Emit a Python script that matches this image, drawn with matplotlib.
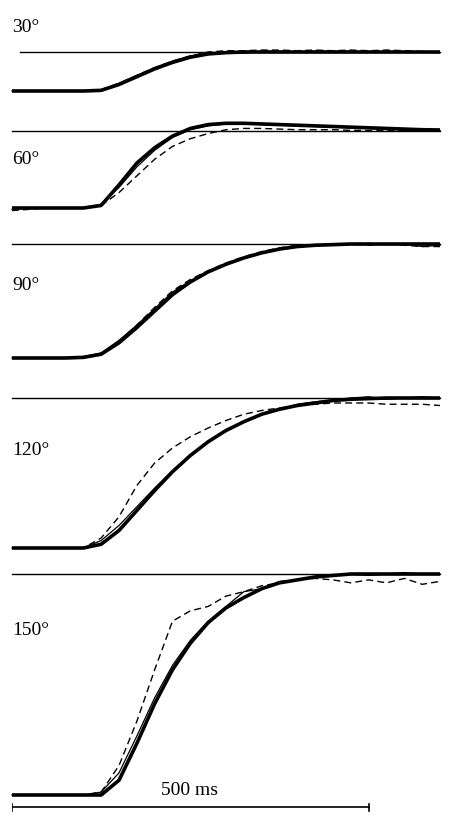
import matplotlib
matplotlib.use("Agg")
import matplotlib.pyplot as plt
import numpy as np

t = np.arange(0, 625, 25)  # ms
angles = [30, 60, 90, 120, 150]
labels = ["30°", "60°", "90°", "120°", "150°"]

model = [
 [0,0,0,0,0,0.5,5,11,17,22,26,28.5,29.5,30,30,30,30,30,30,30,30,30,30,30,30],
 [0,0,0,0,0,2,18,35,47,56,62,65,66,66,65.5,65,64.5,64,63.5,63,62.5,62,61.5,61,60.8],
 [0,0,0,0,0.5,3,12,24,37,50,60,68,74,79,83,86,88,89,89.5,90,90,90,90,90,90],
 [0,0,0,0,0,3,14,30,46,61,74,85,94,101,107,111,114,116,118,119,119.5,120,120,120,120],
 [0,0,0,0,0,0,10,35,62,85,103,117,127,134,140,144,146,148,149,150,150,150,150,150,150],
]
thin = [
 [0,0,0,0,0,1,6,12,18,23,27,29,30,29,30.5,30.5,30,30.5,30.5,30.5,30,30.5,30,30,29.5],
 [-1,0,0,0,0,3,16,32,45,55,61,64,65.5,65.5,65,64.5,64,63.5,63,62.5,62,61.5,61,61,60.5],
 [0,0,0,0,1,4,14,26,39,52,61,68,74,79,83,86,88,89,90,90,90.5,89.5,90,88,89],
 [0,0,0,0,0,6,18,33,48,62,74,85,94,101,107,111,115,117,118,120,121,119,120,121,120],
 [0,0,0,0,0,2,15,40,66,88,105,118,128,138,140,145,146,148,149,150,149,150,151,150,150],
]
dashed = [
 [0,0,0,0,0,1,6,12,18,23,27,30,31,31,31.5,31.5,31,31.5,31,31.5,31,31.5,31,30.5,30],
 [-2,-1,0,0,0,2,12,25,38,48,54,58,61,62,62,61.5,61,61,61,60.5,60.5,60.5,60.5,60.5,60],
 [0,0,0,0,0,3,13,26,40,53,62,69,75,80,84,87,89,89.5,90,90,89,90,89,88,88],
 [0,0,0,0,0,8,25,50,68,80,89,96,102,107,110,112,114,115,116,116,116,115,115,115,114],
 [0,0,0,0,0,2,20,50,85,118,125,128,135,138,142,144,146,147,146,144,146,144,147,143,145],
]

# panel pixel geometry (baseline y, target y) in a 452x821 figure
pix = [(91, 52), (208, 131), (358, 244), (548, 398), (795, 574)]
line_start = [20, 12, 12, 12, 12]
label_y = [28, 160, 285, 450, 630]
W, H = 452, 821
x0, x1 = 12, 440
tmax = 600

fig = plt.figure(figsize=(W/100, H/100), dpi=100)
serif = "Liberation Serif"
for i in range(5):
    base, top = pix[i]
    ax = fig.add_axes([x0/W, 1-base/H, (x1-x0)/W, (base-top)/H])
    ax.set_xlim(0, tmax)
    ax.set_ylim(0, angles[i])
    ax.axis("off")
    ts = (line_start[i]-x0)/(x1-x0)*tmax
    ax.plot([ts, tmax], [angles[i]]*2, color="black", lw=1.0, clip_on=False)
    ax.plot(t, model[i], color="black", lw=2.6, clip_on=False, solid_capstyle="butt")
    ax.plot(t, thin[i], color="black", lw=0.9, clip_on=False)
    ax.plot(t, dashed[i], color="black", lw=1.0, ls=(0, (5, 3)), clip_on=False)
    fig.text(12/W, 1-label_y[i]/H, labels[i], fontsize=14, family=serif, va="center", ha="left")

# scale bar
axs = fig.add_axes([x0/W, 1-812/H, (x1-x0)/W, 10/H])
axs.set_xlim(0, tmax); axs.set_ylim(-1, 1); axs.axis("off")
axs.plot([0, 500], [0, 0], color="black", lw=1.2)
axs.plot([0, 0], [-0.7, 0.7], color="black", lw=1.2)
axs.plot([500, 500], [-0.7, 0.7], color="black", lw=1.2)
fig.text(190/W, 1-790/H, "500 ms", fontsize=14, family=serif, ha="center", va="center")

fig.savefig("out.png", dpi=100)
